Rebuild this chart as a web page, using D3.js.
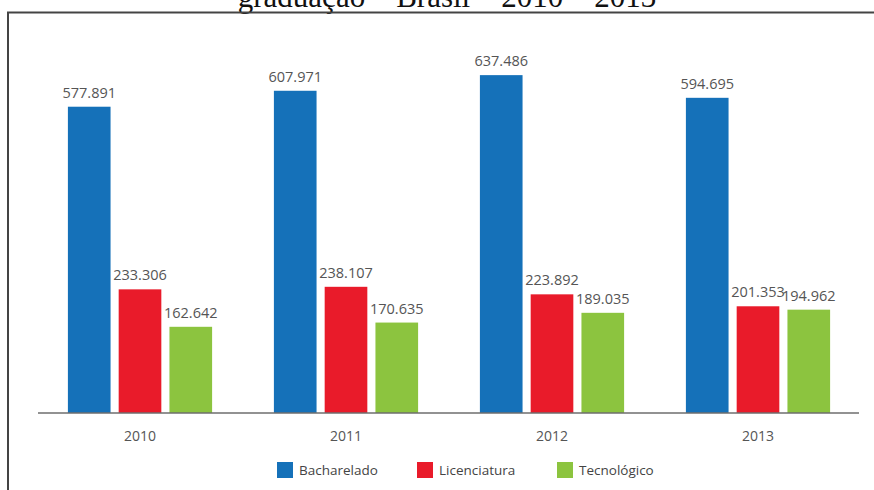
<!DOCTYPE html>
<html>
<head>
<meta charset="utf-8">
<script src="https://cdn.jsdelivr.net/npm/d3@7/dist/d3.min.js"></script>
<style>
  html, body { margin: 0; padding: 0; background: #fff; }
  svg { display: block; }
</style>
</head>
<body>
<svg id="chart" width="874" height="490"></svg>
<script>
// Matrículas em cursos de graduação por grau acadêmico (milhares)
const years = ["2010", "2011", "2012", "2013"];
const series = ["Bacharelado", "Licenciatura", "Tecnológico"];
const bacharelado = [577.891, 607.971, 637.486, 594.695];
const licenciatura = [233.306, 238.107, 223.892, 201.353];
const tecnologico = [162.642, 170.635, 189.035, 194.962];
const colors = ["#1571b9", "#e91b2a", "#8cc43f"];
const titleText = "graduação – Brasil – 2010 – 2013";

const valuesBySeries = [bacharelado, licenciatura, tecnologico];
const rows = years.map((yr, i) => ({
  year: yr,
  values: series.map((s, j) => ({ series: s, value: valuesBySeries[j][i], color: colors[j] }))
}));

const svg = d3.select("#chart");
const W = 874, H = 490;

const x0 = d3.scaleBand().domain(years).range([37, 861]).paddingInner(0.3).paddingOuter(0.15);
const x1 = d3.scaleBand().domain(series).range([0, x0.bandwidth()]).paddingInner(0.16).paddingOuter(0);
const y = d3.scaleLinear().domain([0, 700]).range([413, 42]);

// Title (partly above the visible area)
svg.append("text")
  .attr("x", 447).attr("y", 7)
  .attr("text-anchor", "middle")
  .attr("font-family", "'Liberation Serif', 'Times New Roman', serif")
  .attr("font-size", 31)
  .attr("fill", "#111")
  .text(titleText);

// Frame: top and left edges
svg.append("path")
  .attr("d", `M8,${H} L8,12.5 L${W},12.5`)
  .attr("fill", "none")
  .attr("stroke", "#444")
  .attr("stroke-width", 2);

// Grouped bars
const groups = svg.append("g").selectAll("g")
  .data(rows).join("g")
  .attr("transform", d => `translate(${x0(d.year)},0)`);

groups.selectAll("rect")
  .data(d => d.values).join("rect")
  .attr("x", d => x1(d.series))
  .attr("y", d => y(d.value))
  .attr("width", x1.bandwidth())
  .attr("height", d => y(0) - y(d.value))
  .attr("fill", d => d.color);

// Value labels
const fmt = v => v.toFixed(3);
groups.selectAll("text.val")
  .data(d => d.values).join("text")
  .attr("class", "val")
  .attr("x", d => x1(d.series) + x1.bandwidth() / 2)
  .attr("y", d => y(d.value) - 9)
  .attr("text-anchor", "middle")
  .attr("font-family", "'Open Sans', sans-serif")
  .attr("font-size", 14.5)
  .attr("fill", "#555")
  .text(d => fmt(d.value));

// X axis baseline and year labels
const xAxis = d3.axisBottom(x0).tickSize(0).tickPadding(18);
const ax = svg.append("g").attr("transform", `translate(0,${y(0)})`).call(xAxis);
ax.select(".domain").remove();
ax.append("line")
  .attr("x1", 38).attr("x2", 859)
  .attr("y1", 0).attr("y2", 0)
  .attr("stroke", "#6e6e6e")
  .attr("stroke-width", 1.5);
ax.selectAll(".tick text")
  .attr("font-family", "'Open Sans', sans-serif")
  .attr("font-size", 14)
  .attr("fill", "#555");

// Legend
const lx = d3.scaleBand().domain(series).range([277, 697]);
const legend = svg.append("g").selectAll("g")
  .data(series).join("g")
  .attr("transform", d => `translate(${lx(d)},470)`);
legend.append("rect")
  .attr("x", 0).attr("y", -8)
  .attr("width", 16).attr("height", 16)
  .attr("fill", (d, i) => colors[i]);
legend.append("text")
  .attr("x", 22).attr("y", 5)
  .attr("font-family", "'Open Sans', sans-serif")
  .attr("font-size", 13.5)
  .attr("fill", "#444")
  .text(d => d);
</script>
</body>
</html>
